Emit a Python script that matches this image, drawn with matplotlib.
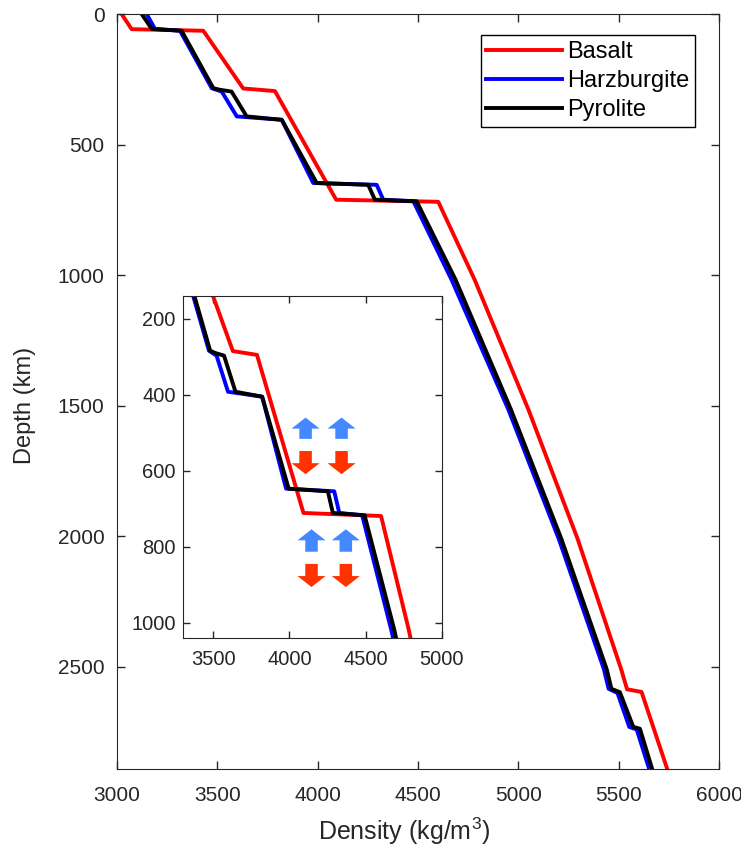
import numpy as np
import matplotlib
matplotlib.use('Agg')
import matplotlib.pyplot as plt
from matplotlib.patches import FancyArrow

plt.rcParams['font.family'] = ['Liberation Sans', 'DejaVu Sans']
plt.rcParams['mathtext.default'] = 'regular'

# density profiles (kg/m3) vs depth (km)
basalt_depth = [0, 58, 64, 285, 295, 711, 719, 1017, 1514, 2011, 2508, 2586, 2596, 2891]
basalt_rho = [3023, 3073, 3430, 3629, 3787, 4092, 4601, 4782, 5050, 5296, 5512, 5542, 5614, 5742]

harz_depth = [0, 57, 64, 284, 297, 392, 405, 647, 654, 711, 717, 1017, 1514, 2011,
              2508, 2584, 2600, 2730, 2740, 2891]
harz_rho = [3148, 3189, 3314, 3472, 3522, 3597, 3821, 3978, 4294, 4327, 4477, 4667, 4950, 5202,
            5426, 5450, 5494, 5553, 5590, 5652]

pyro_depth = [0, 57, 64, 284, 290, 297, 392, 405, 647, 654, 711, 717, 1017, 1514,
              2011, 2508, 2584, 2597, 2730, 2737, 2891]
pyro_rho = [3123, 3173, 3322, 3480, 3513, 3571, 3646, 3821, 3995, 4252, 4285, 4493, 4687, 4963,
            5215, 5440, 5464, 5506, 5573, 5606, 5667]

labels = ['Basalt', 'Harzburgite', 'Pyrolite']

# arrows in the inset: x centre, tip depth, tail depth
up_x = [4106, 4342, 4145, 4370]
up_tip = [460, 460, 754, 754]
up_tail = [516, 516, 813, 813]
down_x = [4106, 4342, 4145, 4370]
down_tail = [548, 548, 845, 845]
down_tip = [609, 609, 906, 906]

axc = '#262626'

fig = plt.figure(figsize=(7.41, 8.51), dpi=100)
ax = fig.add_axes([0.1579, 0.0964, 0.8124, 0.8871])

ax.plot(basalt_rho, basalt_depth, color='r', lw=2.8, label=labels[0])
ax.plot(harz_rho, harz_depth, color='b', lw=2.8, label=labels[1])
ax.plot(pyro_rho, pyro_depth, color='k', lw=2.8, label=labels[2])

ax.set_xlim(3000, 6000)
ax.set_ylim(2891, 0)
ax.set_xticks(np.arange(3000, 6001, 500))
ax.set_yticks(np.arange(0, 2501, 500))
ax.tick_params(direction='in', top=True, right=True, length=6, width=1,
               labelsize=15, colors=axc)
ax.tick_params(axis='x', pad=12)
ax.tick_params(axis='y', pad=9)
for s in ax.spines.values():
    s.set_color(axc)
ax.set_xlabel('Density (kg/m$^3$)', fontsize=18, color=axc)
ax.set_ylabel('Depth (km)', fontsize=17, color=axc)
ax.xaxis.set_label_coords(0.477, -0.062)
ax.yaxis.set_label_coords(-0.135, 0.482)

leg = ax.legend(loc='upper right', bbox_to_anchor=(0.96, 0.972), borderaxespad=0,
                fontsize=17, handlelength=3.2, handletextpad=0.2, labelspacing=0.29,
                fancybox=False, framealpha=1, edgecolor='k', borderpad=0.25)
leg.get_frame().set_linewidth(1.0)

# inset
ins = fig.add_axes([0.2466, 0.2503, 0.3497, 0.4019])
ins.plot(basalt_rho, basalt_depth, color='r', lw=2.8)
ins.plot(harz_rho, harz_depth, color='b', lw=2.8)
ins.plot(pyro_rho, pyro_depth, color='k', lw=2.8)
ins.set_xlim(3300, 5000)
ins.set_ylim(1040, 140)
ins.set_xticks([3500, 4000, 4500, 5000])
ins.set_yticks([200, 400, 600, 800, 1000])
ins.tick_params(direction='in', top=True, right=True, length=5, width=1,
                labelsize=14.5, colors=axc)
ins.tick_params(axis='x', pad=9)
ins.tick_params(axis='y', pad=5)
for s in ins.spines.values():
    s.set_color(axc)

for x, tip, tail in zip(up_x, up_tip, up_tail):
    ins.add_patch(FancyArrow(x, tail, 0, tip - tail, width=82, head_width=184,
                             head_length=29, length_includes_head=True,
                             color='#4488ff', lw=0, zorder=5))
for x, tail, tip in zip(down_x, down_tail, down_tip):
    ins.add_patch(FancyArrow(x, tail, 0, tip - tail, width=82, head_width=184,
                             head_length=29, length_includes_head=True,
                             color='#ff3300', lw=0, zorder=5))

fig.savefig('out.png', dpi=100)
